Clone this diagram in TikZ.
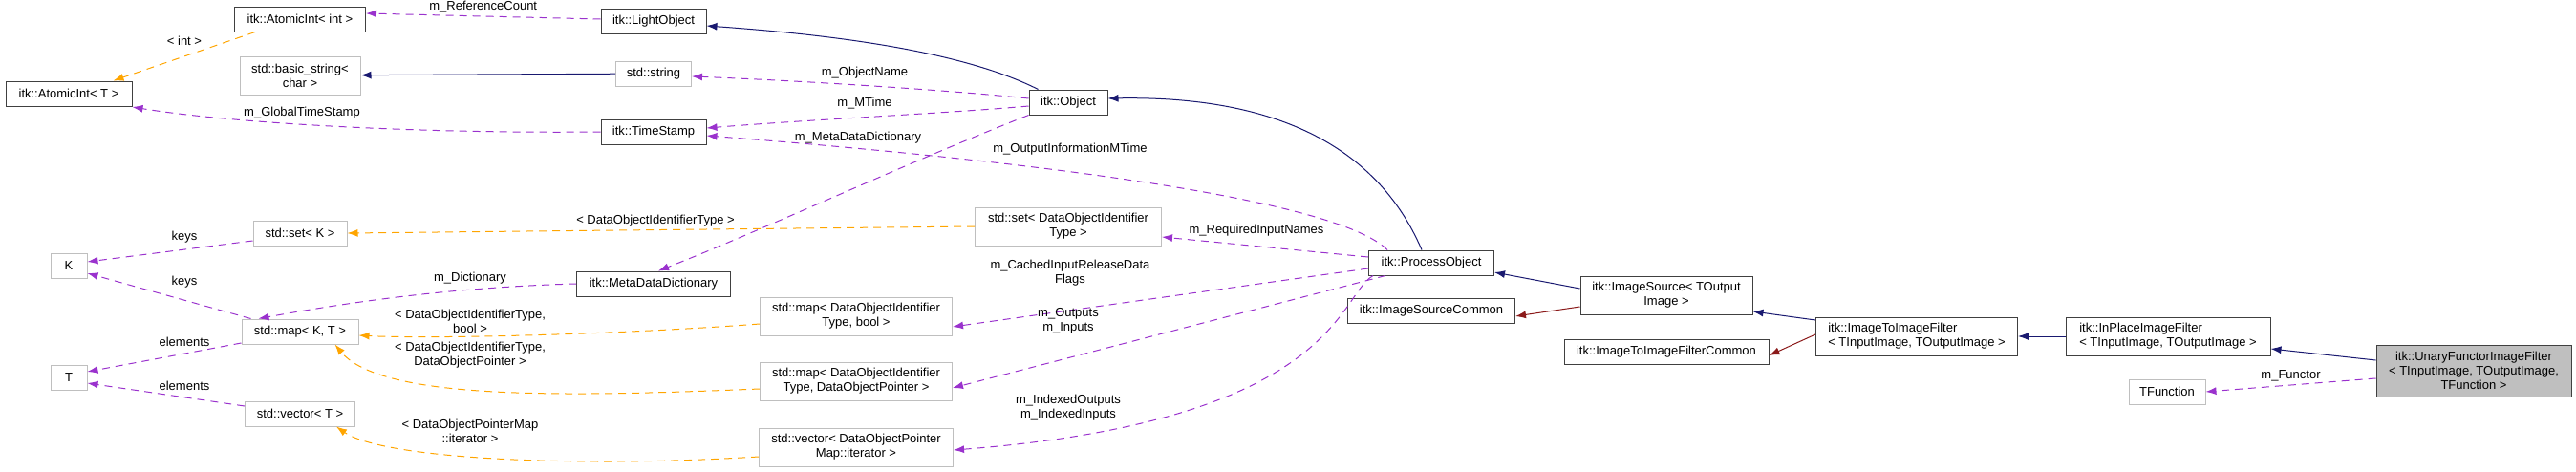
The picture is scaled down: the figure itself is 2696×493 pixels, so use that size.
\documentclass[tikz,border=0pt]{standalone}
\usepackage{fontspec}
\setmainfont{Liberation Sans}
\usetikzlibrary{arrows.meta}
\usetikzlibrary{positioning}
\usetikzlibrary{calc}
\definecolor{inhcol}{HTML}{191970}
\definecolor{memcol}{HTML}{9A32CD}
\definecolor{tplcol}{HTML}{FFA500}
\definecolor{usecol}{HTML}{8B1A1A}
\definecolor{extcol}{HTML}{BFBFBF}
\tikzset{
  cls/.style = {rectangle, draw=black!75, line width=1pt, text centered, align=center, minimum height=26pt, inner sep=2pt, font=\fontsize{13}{15}\selectfont},
  ext/.style = {cls, draw=extcol},
  tip/.style = {-{Latex[length=11pt, width=8pt]}},
  inh/.style = {tip, draw=inhcol, line width=1pt},
  use/.style = {tip, draw=usecol, line width=1pt},
  mem/.style = {tip, draw=memcol, line width=1pt, dash pattern=on 8pt off 6pt},
  tpl/.style = {tip, draw=tplcol, line width=1pt, dash pattern=on 8pt off 6pt},
  lbl/.style = {align=center, inner sep=0pt, font=\fontsize{13}{15}\selectfont}
}
\begin{document}
\begin{tikzpicture}[x=1pt, y=-1pt]
	\useasboundingbox (0,0) rectangle (2696,493);
	% classes
	\node [cls, minimum width=137pt] (aiInt) at (314,20) {itk::AtomicInt< int >};
	\node [cls, minimum width=110pt] (light) at (684,22) {itk::LightObject};
	\node [ext, minimum width=126pt, minimum height=40pt] (bstr) at (314,79) {std::basic\_string<\\char >};
	\node [ext, minimum width=79pt] (str) at (684,77) {std::string};
	\node [cls, minimum width=132pt] (aiT) at (72,98) {itk::AtomicInt< T >};
	\node [cls, minimum width=110pt] (stamp) at (684,138) {itk::TimeStamp};
	\node [ext, minimum width=98pt] (setK) at (314,244) {std::set< K >};
	\node [ext, minimum width=38pt] (K) at (72,278) {K};
	\node [cls, minimum width=161pt] (meta) at (684,297) {itk::MetaDataDictionary};
	\node [ext, minimum width=122pt] (mapKT) at (314,347) {std::map< K, T >};
	\node [ext, minimum width=38pt] (T) at (72,395) {T};
	\node [ext, minimum width=115pt] (vecT) at (314,433) {std::vector< T >};
	\node [ext, minimum width=201pt, minimum height=40pt] (mapBool) at (896,331) {std::map< DataObjectIdentifier\\Type, bool >};
	\node [ext, minimum width=201pt, minimum height=40pt] (mapPtr) at (896,399) {std::map< DataObjectIdentifier\\Type, DataObjectPointer >};
	\node [ext, minimum width=203pt, minimum height=40pt] (vecIt) at (896,468) {std::vector< DataObjectPointer\\Map::iterator >};
	\node [ext, minimum width=195pt, minimum height=40pt] (setId) at (1118,237) {std::set< DataObjectIdentifier\\Type >};
	\node [cls, minimum width=82pt] (obj) at (1118,107) {itk::Object};
	\node [cls, minimum width=131pt] (proc) at (1498,275) {itk::ProcessObject};
	\node [cls, minimum width=175pt] (srcCom) at (1498,325) {itk::ImageSourceCommon};
	\node [cls, minimum width=180pt, minimum height=40pt] (src) at (1744,309) {itk::ImageSource< TOutput\\Image >};
	\node [cls, minimum width=214pt] (i2iCom) at (1744,368) {itk::ImageToImageFilterCommon};
	\node [cls, minimum width=211pt, minimum height=40pt, align=left] (i2i) at (2006,352) {itk::ImageToImageFilter\\< TInputImage, TOutputImage >};
	\node [cls, minimum width=214pt, minimum height=40pt, align=left] (inplace) at (2269,352) {itk::InPlaceImageFilter\\< TInputImage, TOutputImage >};
	\node [ext, minimum width=80pt] (func) at (2268,410) {TFunction};
	\node [cls, minimum width=204pt, minimum height=54pt, fill=extcol] (unary) at (2589,388) {itk::UnaryFunctorImageFilter\\< TInputImage, TOutputImage,\\TFunction >};
	% inheritance
	\draw [inh] (str) -- (bstr);
	\draw [inh] ($(obj.north west)+(10,0)$) .. controls (1000,50) and (850,35) .. ($(light.east)+(0,5)$);
	\draw [inh] ($(proc.north west)+(56,0)$) .. controls (1440,150) and (1330,100) .. ($(obj.east)+(0,-4)$);
	\draw [inh] ($(src.west)+(0,-7)$) -- ($(proc.east)+(0,10)$);
	\draw [use] ($(src.west)+(0,12)$) -- ($(srcCom.east)+(0,6)$);
	\draw [inh] ($(i2i.west)+(0,-17)$) -- ($(src.east)+(0,17)$);
	\draw [use] ($(i2i.west)+(0,-2)$) -- ($(i2iCom.east)+(0,4)$);
	\draw [inh] (inplace) -- (i2i);
	\draw [inh] ($(unary.west)+(0,-11)$) -- ($(inplace.east)+(0,13)$);
	% members
	\draw [mem] ($(light.west)+(0,-2)$) -- ($(aiInt.east)+(0,-6)$) node [lbl, pos=0.5, above=3pt] (lRef) {m\_ReferenceCount};
	\draw [tpl] ($(aiInt.south west)+(22,0)$) -- ($(aiT.north east)+(-20,0)$);
	\node [lbl] (lInt) at (193,43) {< int >};
	\draw [mem] (stamp.west) .. controls (450,140) and (250,130) .. ($(aiT.east)+(0,14)$);
	\node [lbl] (lGlob) at (316,118) {m\_GlobalTimeStamp};
	\draw [mem] ($(obj.west)+(0,-4)$) .. controls (1000,95) and (850,85) .. ($(str.east)+(0,3)$);
	\node [lbl] (lName) at (905,76) {m\_ObjectName};
	\draw [mem] ($(obj.west)+(0,4)$) .. controls (1000,118) and (850,125) .. ($(stamp.east)+(0,-4)$);
	\node [lbl] (lMT) at (905,108) {m\_MTime};
	\draw [mem] ($(obj.south west)+(0,0)$) .. controls (950,170) and (800,240) .. ($(meta.north)+(5,0)$);
	\node [lbl, fill=white, fill opacity=0, text opacity=1] (lMeta) at (898,144) {m\_MetaDataDictionary};
	\draw [mem] ($(proc.north west)+(20,0)$) .. controls (1400,210) and (1100,170) .. ($(stamp.east)+(0,4)$);
	\node [lbl] (lOut) at (1120,156) {m\_OutputInformationMTime};
	\draw [mem] ($(proc.west)+(0,-6)$) -- ($(setId.east)+(0,11)$);
	\node [lbl] (lReq) at (1315,241) {m\_RequiredInputNames};
	\draw [tpl] (setId.west) -- ($(setK.east)+(0,0)$);
	\node [lbl] (lSet) at (686,231) {< DataObjectIdentifierType >};
	\draw [mem] ($(setK.west)+(0,8)$) -- ($(K.east)+(0,-4)$);
	\node [lbl] (lKey1) at (193,248) {keys};
	\draw [mem] ($(mapKT.north west)+(10,0)$) -- ($(K.east)+(0,8)$);
	\node [lbl] (lKey2) at (193,295) {keys};
	\draw [mem] (meta.west) .. controls (500,300) and (400,310) .. ($(mapKT.north east)+(-105,0)$);
	\node [lbl] (lDict) at (492,291) {m\_Dictionary};
	\draw [tpl] ($(mapBool.west)+(0,8)$) .. controls (650,350) and (450,355) .. ($(mapKT.east)+(0,4)$);
	\node [lbl] (lBool) at (492,336) {< DataObjectIdentifierType,\\bool >};
	\draw [tpl] ($(mapPtr.west)+(0,8)$) .. controls (600,415) and (400,420) .. ($(mapKT.south east)+(-25,0)$);
	\node [lbl] (lPtr) at (492,372) {< DataObjectIdentifierType,\\DataObjectPointer >};
	\draw [mem] ($(mapKT.west)+(0,12)$) -- ($(T.east)+(0,-6)$);
	\node [lbl] (lEl1) at (193,358) {elements};
	\draw [mem] ($(vecT.west)+(0,-8)$) -- ($(T.east)+(0,6)$);
	\node [lbl] (lEl2) at (193,404) {elements};
	\draw [tpl] ($(vecIt.west)+(0,10)$) .. controls (600,490) and (400,480) .. ($(vecT.south east)+(-20,0)$);
	\node [lbl] (lIt) at (492,451) {< DataObjectPointerMap\\::iterator >};
	\draw [mem] ($(proc.west)+(0,6)$) -- ($(mapBool.east)+(0,11)$);
	\node [lbl] (lFlags) at (1120,286) {m\_CachedInputReleaseData\\Flags};
	\draw [mem] ($(proc.south west)+(18,0)$) -- ($(mapPtr.east)+(0,7)$);
	\node [lbl] (lIO) at (1118,336) {m\_Outputs\\m\_Inputs};
	\draw [mem] ($(proc.south west)+(5,0)$) .. controls (1400,310) and (1400,440) .. ($(vecIt.east)+(0,3)$);
	\node [lbl] (lIdx) at (1118,427) {m\_IndexedOutputs\\m\_IndexedInputs};
	\draw [mem] ($(unary.west)+(0,8)$) -- ($(func.east)+(0,0)$) node [lbl, pos=0.5, above=3pt] (lFun) {m\_Functor};
\end{tikzpicture}
\end{document}
